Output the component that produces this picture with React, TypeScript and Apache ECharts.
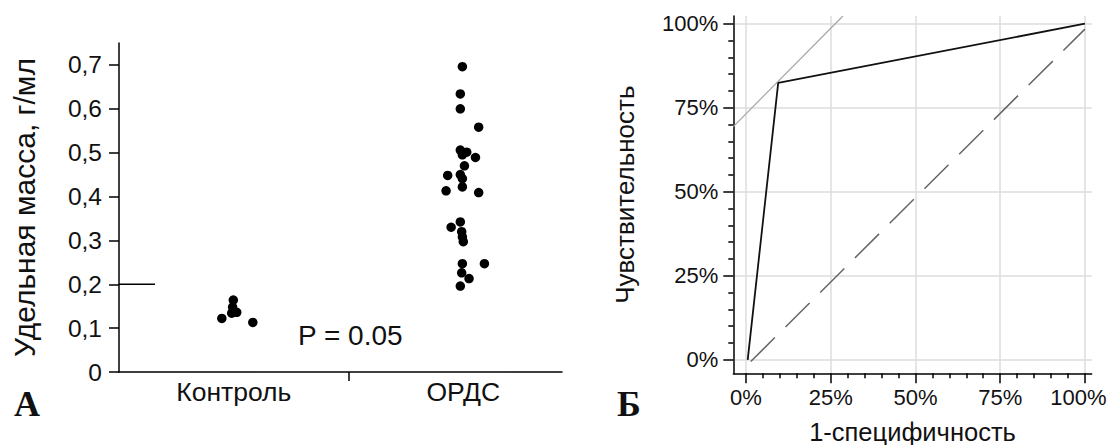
import React, { useEffect, useRef } from "react";
import * as echarts from "echarts";

// ---- Panel A data ----
const groupLabels = ["Контроль", "ОРДС"];
const groupCenters = [0.5, 1.5];
const groupBoundaryTicks = [1];
const densityTicks = [0, 0.1, 0.2, 0.3, 0.4, 0.5, 0.6, 0.7];
const controlX = [0.448, 0.498, 0.495, 0.513, 0.491, 0.583];
const controlY = [0.122, 0.164, 0.148, 0.136, 0.134, 0.113];
const ardsX = [1.496, 1.487, 1.487, 1.567, 1.487, 1.515, 1.496, 1.553, 1.505, 1.432, 1.487, 1.496, 1.425, 1.496, 1.567, 1.487, 1.447, 1.493, 1.496, 1.5, 1.496, 1.592, 1.493, 1.525, 1.487];
const ardsY = [0.696, 0.634, 0.6, 0.558, 0.506, 0.501, 0.495, 0.489, 0.47, 0.448, 0.45, 0.441, 0.413, 0.422, 0.409, 0.342, 0.33, 0.32, 0.308, 0.297, 0.247, 0.247, 0.226, 0.213, 0.196];
const cutoffX = [0, 0.157];
const cutoffY = [0.2, 0.2];
const pText = "P = 0.05";

// ---- Panel B data ----
const pctMajor = [0, 25, 50, 75, 100];
const pctMinor = [5, 10, 15, 20, 30, 35, 40, 45, 55, 60, 65, 70, 80, 85, 90, 95];
const rocX = [0.5, 9.5, 100];
const rocY = [0, 82.4, 100];
const tangentX = [-3.75, 28.6];
const tangentY = [69.4, 102.3];
const diagX = [1.4, 100];
const diagY = [-0.5, 98.4];

const FONT = "'Liberation Sans', Arial, sans-serif";
const SERIF = "'Liberation Serif', 'Times New Roman', serif";
const zip = (xs: number[], ys: number[]) => xs.map((x, i) => [x, ys[i]]);

export default function App() {
  const ref = useRef<HTMLDivElement>(null);
  useEffect(() => {
    if (!ref.current) return;
    const chart = echarts.init(ref.current, null, { renderer: "svg" });
    const black = { color: "#000", width: 1.5 };
    const pctRange = { x: [-3.75, 102], y: [-4, 102.3] };
    chart.setOption({
      animation: false,
      textStyle: { fontFamily: FONT },
      grid: [
        { left: 119, top: 43, width: 443, height: 329, outerBoundsMode: "none", containLabel: false },
        { left: 733.3, top: 16, width: 358.4, height: 357.3, outerBoundsMode: "none", containLabel: false },
      ],
      xAxis: [
        {
          gridIndex: 0, type: "value", min: 0, max: 1.93,
          axisLine: { show: true, onZero: false, lineStyle: black },
          axisTick: { show: true, customValues: groupBoundaryTicks, length: 9, lineStyle: black },
          axisLabel: {
            customValues: groupCenters, fontSize: 26.5, color: "#111", margin: 6, fontFamily: FONT,
            formatter: (v: number) => groupLabels[Math.round(v - 0.5)] ?? "",
          },
          splitLine: { show: false },
        },
        {
          gridIndex: 1, type: "value", position: "bottom", min: pctRange.x[0], max: pctRange.x[1],
          axisLine: { show: true, onZero: false, lineStyle: black },
          axisTick: { show: true, customValues: pctMajor, length: 10, lineStyle: black },
          axisLabel: {
            customValues: pctMajor, fontSize: 22, color: "#111", margin: 13, fontFamily: FONT,
            formatter: (v: number) => (v === 100 ? `{edge|${v}%}` : `${v}%`),
            rich: { edge: { fontSize: 22, color: "#111", fontFamily: FONT, padding: [0, 13, 0, 0] } },
          },
          splitLine: { show: true, lineStyle: { color: "#dcdcdc", width: 1.5 } },
          name: "1-специфичность", nameLocation: "middle", nameGap: 46,
          nameTextStyle: { fontSize: 25.5, color: "#111", fontFamily: FONT },
        },
        {
          gridIndex: 1, type: "value", position: "bottom", min: pctRange.x[0], max: pctRange.x[1],
          axisLine: { show: false, onZero: false },
          axisTick: { show: true, customValues: pctMinor, length: 5, lineStyle: black },
          axisLabel: { show: false },
          splitLine: { show: false },
        },
      ],
      yAxis: [
        {
          gridIndex: 0, type: "value", min: 0, max: 0.75,
          axisLine: { show: true, onZero: false, lineStyle: black },
          axisTick: { show: true, customValues: densityTicks, length: 10, lineStyle: black },
          axisLabel: {
            customValues: densityTicks, fontSize: 24.5, color: "#111", margin: 17, fontFamily: FONT,
            formatter: (v: number) => (v === 0 ? "0" : v.toFixed(1).replace(".", ",")),
          },
          splitLine: { show: false },
          name: "Удельная масса, г/мл", nameLocation: "middle", nameGap: 80,
          nameTextStyle: { fontSize: 30, color: "#111", fontFamily: FONT },
        },
        {
          gridIndex: 1, type: "value", position: "left", min: pctRange.y[0], max: pctRange.y[1],
          axisLine: { show: true, onZero: false, lineStyle: black },
          axisTick: { show: true, customValues: pctMajor, length: 10, lineStyle: black },
          axisLabel: { customValues: pctMajor, fontSize: 22, color: "#111", margin: 15, formatter: (v: number) => `${v}%`, fontFamily: FONT },
          splitLine: { show: true, lineStyle: { color: "#dcdcdc", width: 1.5 } },
          name: "Чувствительность", nameLocation: "middle", nameGap: 95,
          nameTextStyle: { fontSize: 26, color: "#111", fontFamily: FONT },
        },
        {
          gridIndex: 1, type: "value", position: "left", min: pctRange.y[0], max: pctRange.y[1],
          axisLine: { show: false, onZero: false },
          axisTick: { show: true, customValues: pctMinor, length: 5, lineStyle: black },
          axisLabel: { show: false },
          splitLine: { show: false },
        },
      ],
      series: [
        { type: "scatter", xAxisIndex: 0, yAxisIndex: 0, data: zip(controlX, controlY), symbolSize: 9.5, itemStyle: { color: "#000", opacity: 1 } },
        { type: "scatter", xAxisIndex: 0, yAxisIndex: 0, data: zip(ardsX, ardsY), symbolSize: 9.5, itemStyle: { color: "#000", opacity: 1 } },
        { type: "line", xAxisIndex: 0, yAxisIndex: 0, data: zip(cutoffX, cutoffY), symbol: "none", lineStyle: { color: "#000", width: 1.5 } },
        { type: "line", xAxisIndex: 1, yAxisIndex: 1, data: zip(tangentX, tangentY), symbol: "none", lineStyle: { color: "#a8a8a8", width: 1.3 } },
        { type: "line", xAxisIndex: 1, yAxisIndex: 1, data: zip(diagX, diagY), symbol: "none", lineStyle: { color: "#666", width: 1.5, type: [34, 15] } },
        { type: "line", xAxisIndex: 1, yAxisIndex: 1, data: zip(rocX, rocY), symbol: "none", lineStyle: { color: "#111", width: 1.8 } },
      ],
      graphic: [
        { type: "text", left: 298, top: 321, style: { text: pText, fontSize: 28, fill: "#111", fontFamily: FONT } },
        { type: "text", left: 14, top: 386, style: { text: "А", fontSize: 36, fontWeight: "bold", fill: "#111", fontFamily: SERIF } },
        { type: "text", left: 617, top: 386, style: { text: "Б", fontSize: 36, fontWeight: "bold", fill: "#111", fontFamily: SERIF } },
      ],
    });
    return () => chart.dispose();
  }, []);
  return <div ref={ref} style={{ position: "fixed", left: 0, top: 0, width: 1110, height: 445, background: "#fff" }} />;
}
